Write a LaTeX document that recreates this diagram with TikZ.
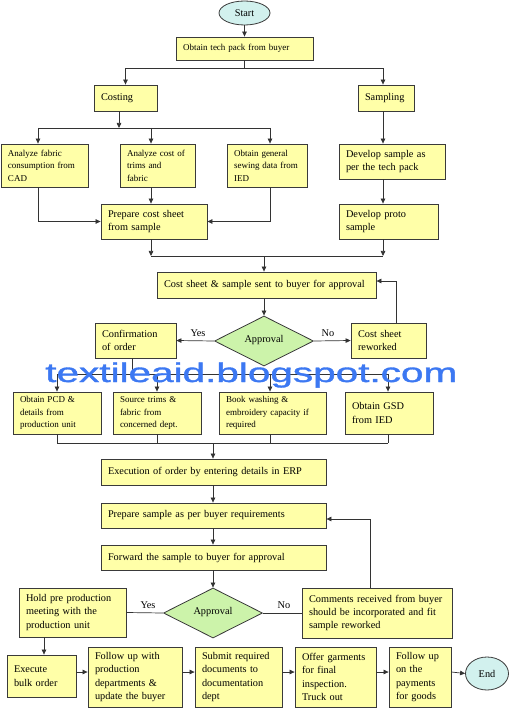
\documentclass[tikz,border=0pt]{standalone}
\usepackage{fontspec}
\setmainfont{Liberation Serif}
\newfontfamily\wmfont[FakeBold=1.2]{Liberation Sans}
\usetikzlibrary{shapes.geometric,arrows.meta,shadows}
\definecolor{boxfill}{HTML}{FFFFA8}
\definecolor{boxline}{HTML}{3A3A3A}
\definecolor{dfill}{HTML}{CCF3AA}
\definecolor{efill}{HTML}{D2F1EE}
\definecolor{wline}{HTML}{333333}
\definecolor{wm}{HTML}{3C78F2}
\newcommand\bx[7]{\pgfmathsetmacro\bxtw{#4-14}\node[box,#7,minimum width=#4pt,minimum height=#5pt,text width=\bxtw pt] (#1) at (#2,#3) {#6};}
\begin{document}
\begin{tikzpicture}[x=1pt,y=-1pt,
 box/.style={draw=boxline, line width=0.8pt, fill=boxfill, align=left, inner xsep=7pt, inner ysep=1pt,
   drop shadow={shadow xshift=1.3pt, shadow yshift=-1.3pt, fill=black, opacity=0.45}},
 sm/.style={font=\fontsize{9.0}{12.5}\selectfont},
 lg/.style={font=\fontsize{10.3}{13.4}\selectfont},
 conn/.style={draw=wline, line width=0.7pt},
 arr/.style={conn, -{Triangle[length=5pt,width=4.5pt]}},
 term/.style={ellipse, draw=boxline, line width=0.8pt, fill=efill, inner sep=0pt, lg},
 dec/.style={diamond, shape aspect=2, draw=boxline, line width=0.8pt, fill=dfill, inner sep=0pt, minimum width=99pt, minimum height=50pt, lg},
 lbl/.style={inner sep=0pt, lg}]
\useasboundingbox (0,0) rectangle (509,708);

% terminals
\node[term, minimum width=51pt, minimum height=24pt] (start) at (244.5,13) {Start};
\node[term, minimum width=43pt, minimum height=33pt] (end) at (487,673.5) {End};

% boxes
\bx{tp}{244.5}{48.5}{137}{23}{Obtain tech pack from buyer}{sm}
\bx{costing}{125.5}{98}{63}{26}{Costing}{lg}
\bx{sampling}{386}{98}{56}{26}{Sampling}{lg}
\bx{afab}{44.5}{165.5}{87}{43}{Analyze fabric\\consumption from\\CAD}{sm}
\bx{acost}{157.5}{165.5}{75}{43}{Analyze cost of\\trims and\\fabric}{sm}
\bx{ogen}{267}{165.5}{80}{43}{Obtain general\\sewing data from\\IED}{sm}
\bx{devs}{392}{161.5}{106}{35}{Develop sample as\\per the tech pack}{lg}
\bx{prep}{154}{221.5}{106}{35}{Prepare cost sheet\\from sample}{lg}
\bx{proto}{388.5}{221.5}{99}{35}{Develop proto\\sample}{lg}
\bx{cs}{266.5}{285}{219}{26}{Cost sheet \& sample sent to buyer for approval}{lg}
\bx{conf}{135.5}{340.5}{81}{35}{Confirmation\\of order}{lg}
\bx{rew}{388.5}{340.5}{75}{35}{Cost sheet\\reworked}{lg}
\bx{pcd}{57}{413}{88}{42}{Obtain PCD \&\\details from\\production unit}{sm}
\bx{src}{157}{413}{88}{42}{Source trims \&\\fabric from\\concerned dept.}{sm}
\bx{book}{272.5}{413}{107}{42}{Book washing \&\\embroidery capacity if\\required}{sm}
\bx{gsd}{389}{413}{88}{42}{Obtain GSD\\from IED\\[4pt]}{lg}
\bx{exe}{213.5}{472}{225}{26}{Execution of order by entering details in ERP}{lg}
\bx{psamp}{213.5}{515.5}{225}{25}{Prepare sample as per buyer requirements}{lg}
\bx{fwd}{213.5}{557.5}{225}{25}{Forward the sample to buyer for approval}{lg}
\bx{hold}{72.5}{612.5}{107}{49}{Hold pre production\\meeting with the\\production unit}{lg}
\bx{comm}{377}{613}{150}{50}{Comments received from buyer\\should be incorporated and fit\\sample reworked}{lg}
\bx{bulk}{41.5}{676}{69}{42}{Execute\\bulk order}{lg}
\bx{fup}{135}{677}{94}{60}{Follow up with\\production\\departments \&\\update the buyer}{lg}
\bx{sub}{238.5}{677}{87}{60}{Submit required\\documents to\\documentation\\dept}{lg}
\bx{offer}{335.5}{677}{81}{60}{Offer garments\\for final\\inspection.\\Truck out}{lg}
\bx{pay}{420}{677}{62}{60}{Follow up\\on the\\payments\\for goods}{lg}

% decisions
\node[dec] (d1) at (264,341) {\raisebox{5pt}{Approval}};
\node[dec] (d2) at (213,613) {\raisebox{5pt}{Approval}};

% labels
\node[lbl] (y1) at (198,333) {Yes};
\node[lbl] (n1) at (328,333) {No};
\node[lbl] (y2) at (148,605) {Yes};
\node[lbl] (n2) at (284,605) {No};

% helper coordinates
\coordinate (j1) at (245,68);
\coordinate (xs) at (383,0);
\coordinate (xc) at (119,0);
\coordinate (j2) at (0,128);
\coordinate (xa) at (38,0);
\coordinate (xb) at (151,0);
\coordinate (xg) at (270,0);
\coordinate (j4) at (0,256);
\coordinate (xm) at (264,0);
\coordinate (xr) at (396,0);
\coordinate (j5) at (0,281);
\coordinate (xcf) at (132,0);
\coordinate (j6) at (0,374);
\coordinate (xp) at (57,0);
\coordinate (xq) at (157,0);
\coordinate (xw) at (270,0);
\coordinate (xd) at (388,0);
\coordinate (j7) at (0,443);
\coordinate (xe) at (213,0);
\coordinate (xo) at (370,0);
\coordinate (j8) at (0,519);
\coordinate (xh) at (44,0);
\coordinate (j9) at (0,672);

% connectors
\draw[arr] (start.south) -- (tp.north);
\draw[conn] (tp.south) -- (tp.south |- j1);
\draw[arr] (tp.south |- j1) -| (costing.north);
\draw[arr] (tp.south |- j1) -| (sampling.north -| xs);
\draw[arr] (costing.south -| xc) -- (xc |- j2);
\draw[conn] (xa |- j2) -- (xg |- j2);
\draw[arr] (xa |- j2) -- (afab.north -| xa);
\draw[arr] (xb |- j2) -- (acost.north -| xb);
\draw[arr] (xg |- j2) -- (ogen.north -| xg);
\draw[arr] (sampling.south -| xs) -- (devs.north -| xs);
\draw[arr] (afab.south -| xa) |- (prep.west);
\draw[arr] (acost.south -| xb) -- (prep.north -| xb);
\draw[arr] (ogen.south -| xg) |- (prep.east);
\draw[arr] (devs.south -| xs) -- (proto.north -| xs);
\draw[arr] (prep.south -| xb) -- (xb |- j4);
\draw[arr] (proto.south -| xs) -- (xs |- j4);
\draw[conn] (xb |- j4) -- (xs |- j4);
\draw[arr] (xm |- j4) -- (cs.north -| xm);
\draw[arr] (cs.south -| xm) -- (d1.north);
\draw[arr] (d1.west) -- (conf.east);
\draw[arr] (d1.east) -- (rew.west);
\draw[arr] (rew.north -| xr) |- (cs.east |- j5);
\draw[conn] (conf.south -| xcf) -- (xcf |- j6);
\draw[conn] (xp |- j6) -- (xd |- j6);
\draw[arr] (xp |- j6) -- (pcd.north -| xp);
\draw[arr] (xq |- j6) -- (src.north -| xq);
\draw[arr] (xw |- j6) -- (book.north -| xw);
\draw[arr] (xd |- j6) -- (gsd.north -| xd);
\draw[conn] (pcd.south -| xp) -- (xp |- j7);
\draw[conn] (src.south -| xq) -- (xq |- j7);
\draw[conn] (book.south -| xw) -- (xw |- j7);
\draw[conn] (gsd.south -| xd) -- (xd |- j7);
\draw[conn] (xp |- j7) -- (xd |- j7);
\draw[arr] (xe |- j7) -- (exe.north -| xe);
\draw[arr] (exe.south -| xe) -- (psamp.north -| xe);
\draw[arr] (psamp.south -| xe) -- (fwd.north -| xe);
\draw[arr] (fwd.south -| xe) -- (d2.north);
\draw[conn] (d2.west) -- (hold.east);
\draw[conn] (d2.east) -- (comm.west);
\draw[arr] (comm.north -| xo) |- (psamp.east |- j8);
\draw[arr] (hold.south -| xh) -- (bulk.north -| xh);
\draw[arr] (bulk.east |- j9) -- (fup.west |- j9);
\draw[arr] (fup.east |- j9) -- (sub.west |- j9);
\draw[arr] (sub.east |- j9) -- (offer.west |- j9);
\draw[arr] (offer.east |- j9) -- (pay.west |- j9);
\draw[arr] (pay.east |- j9) -- (end.west);

% watermark
\node[anchor=base west, inner sep=0pt, text=wm, xscale=1.5, font=\wmfont\fontsize{27}{27}\selectfont] (wmk) at (45,382) {textileaid.blogspot.com};
\end{tikzpicture}
\end{document}
